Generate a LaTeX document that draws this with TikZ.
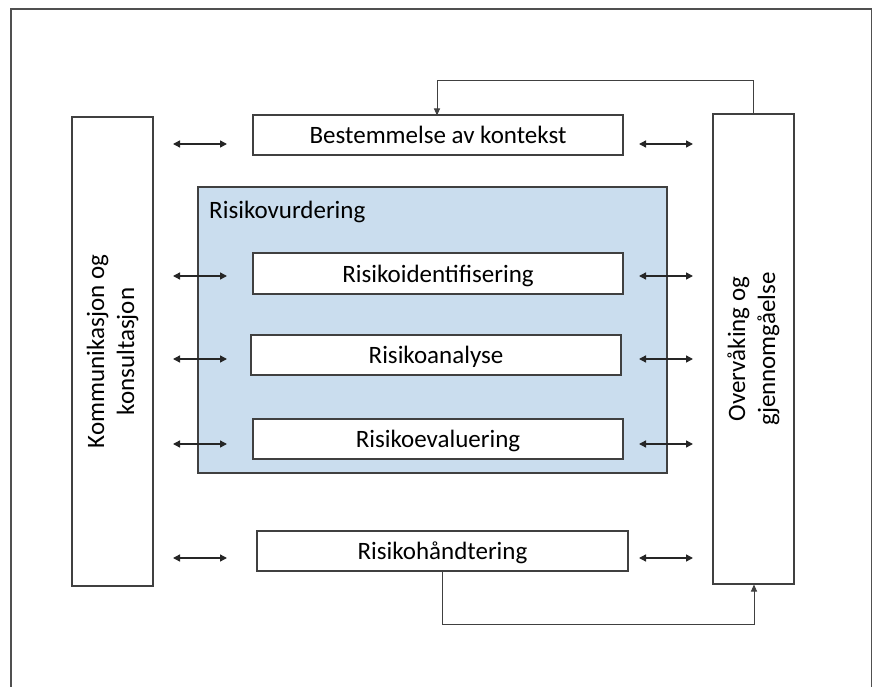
\documentclass[tikz,border=0pt]{standalone}
\usepackage{fontspec}
\setmainfont{Carlito}
\usetikzlibrary{arrows.meta}
\definecolor{boxline}{HTML}{404040}
\definecolor{riskblue}{HTML}{CADDEE}
\definecolor{framegray}{HTML}{505050}
\begin{document}
\begin{tikzpicture}[x=1pt,y=-1pt,
  lbl/.style={font=\fontsize{25}{30}\selectfont},
  box/.style={draw=boxline,line width=1.1pt,fill=white,inner sep=0pt,lbl},
  sidebox/.style={box,minimum width=81pt},
  wbox/.style={box,minimum width=370pt,minimum height=40pt,text depth=0pt},
  biarrow/.style={{Triangle[length=7pt,width=7pt]}-{Triangle[length=7pt,width=7pt]},line width=1.4pt,draw=black!85},
  feed/.style={-{Triangle[length=7pt,width=6pt]},line width=1pt,draw=boxline}]
\useasboundingbox (0,0) rectangle (873,687);
\draw[framegray,line width=1.6pt] (11,700) -- (11,9) -- (871.5,9) -- (871.5,700);
% side boxes
\node[sidebox,minimum height=469pt] (kom) at (112.5,351.5) {};
\node[rotate=90,align=center,lbl] (komtxt) at (kom.center) {Kommunikasjon og\\konsultasjon};
\node[sidebox,minimum height=470pt] (ovr) at (753.5,349) {};
\node[rotate=90,align=center,lbl] (ovrtxt) at (ovr.center) {Overvåking og\\gjennomgåelse};
% blue area
\node[draw=boxline,line width=1.3pt,fill=riskblue,minimum width=469pt,minimum height=286pt,inner sep=0pt] (vurd) at (432.5,330) {};
\node[anchor=west,lbl,inner sep=0pt] (vurdtxt) at (209,212) {Risikovurdering};
% boxes
\node[wbox] (kont) at (438,135) {Bestemmelse av kontekst};
\node[wbox,minimum height=41pt] (ident) at (438,273.5) {Risikoidentifisering};
\node[wbox] (anal) at (436,355) {Risikoanalyse};
\node[wbox] (eval) at (438,439) {Risikoevaluering};
\node[wbox,minimum width=371pt] (hand) at (442.5,551) {Risikohåndtering};
% arrow end coordinates
\foreach \n/\y in {a/144,b/276,c/359,d/444,e/558}{
  \coordinate (l\n1) at (173,\y);
  \coordinate (l\n2) at (227,\y);
  \coordinate (r\n1) at (639,\y);
  \coordinate (r\n2) at (693,\y);
  \draw[biarrow] (l\n1) -- (l\n2);
  \draw[biarrow] (r\n1) -- (r\n2);
}
% feedback loops
\draw[feed] (ovr.north) |- (437,81) -- (437,115.5);
\coordinate (hb) at (442,571);
\draw[feed] (hb) |- (754,624) -- (754,584.5);
\end{tikzpicture}
\end{document}
